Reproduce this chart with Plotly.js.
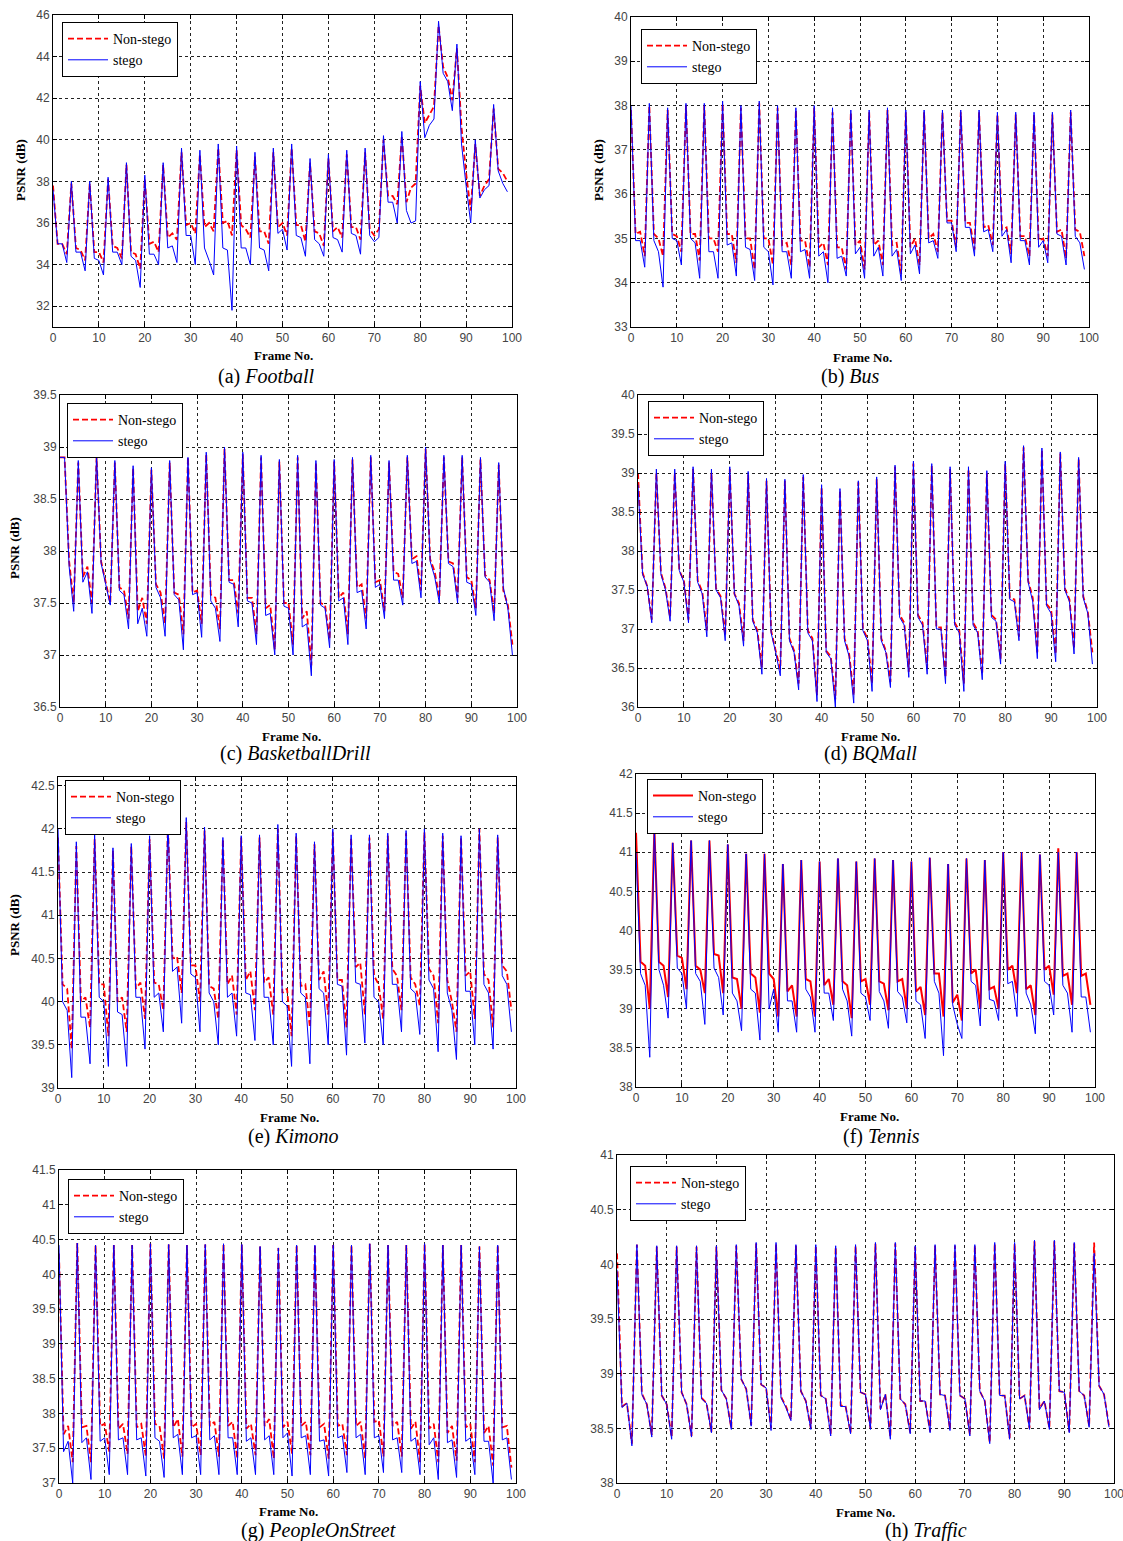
<!DOCTYPE html>
<html>
<head>
<meta charset="utf-8">
<script src="https://cdn.plot.ly/plotly-3.0.1.min.js"></script>
<style>html,body{margin:0;padding:0;background:#fff;}#chart{width:1123px;height:1541px;}</style>
</head>
<body>
<div id="chart"></div>
<script>
// ---------------- DATA (PSNR in dB per frame) ----------------
const frames = Array.from({length: 100}, (_, i) => i);

const football_nonstego = [
37.8,35.0,35.0,34.5, 37.9,34.8,34.7,34.2, 37.9,34.6,34.6,34.1, 38.1,34.9,34.8,34.3, 38.8,34.6,34.5,33.8,
38.1,35.0,35.1,34.6, 38.8,35.3,35.5,35.2, 39.4,35.9,36.0,35.5, 39.3,35.8,36.0,35.6, 39.6,36.0,36.1,35.4,
39.5,35.9,35.7,35.3, 39.2,35.6,35.6,35.0, 39.4,35.8,36.0,35.4, 39.6,35.9,35.9,35.1, 38.9,35.6,35.5,34.9,
39.1,35.6,35.8,35.3, 39.3,35.8,35.8,35.2, 39.4,35.7,35.4,35.7, 40.0,37.3,37.3,36.9, 40.2,37.0,37.7,37.9,
42.6,40.8,41.2,41.6, 45.5,43.5,43.0,41.9, 44.4,40.6,38.4,36.6, 39.8,37.3,37.8,38.1, 41.5,38.6,38.4,38.0];
const football_stego = [
37.6,35.0,35.0,34.1, 38.0,34.6,34.6,33.7, 38.0,34.3,34.2,33.5, 38.2,34.6,34.6,34.0, 38.9,34.4,34.2,32.9,
38.3,34.5,34.5,34.0, 38.9,34.8,34.9,34.1, 39.6,35.4,35.4,34.0, 39.5,34.8,34.2,33.5, 39.8,34.8,34.7,31.8,
39.7,34.8,34.8,34.0, 39.4,34.8,34.7,33.7, 39.6,35.5,35.7,34.7, 39.8,35.4,35.3,34.4, 39.1,35.2,35.0,34.4,
39.3,35.3,35.2,34.6, 39.5,35.5,35.4,34.5, 39.6,35.4,35.1,35.3, 40.2,37.0,37.0,36.0, 40.4,36.6,36.0,36.1,
42.8,40.1,40.7,41.0, 45.7,43.2,42.8,41.4, 44.6,39.8,37.8,36.0, 40.0,37.2,37.6,37.8, 41.7,38.5,37.9,37.5];

const bus_nonstego = [
37.9,35.1,35.15,34.6, 38.0,35.1,35.0,34.6, 37.9,35.1,35.05,34.7, 38.0,35.1,35.1,34.5, 38.0,35.0,35.0,34.7,
38.05,35.1,35.1,34.45, 37.95,35.0,35.0,34.3, 38.05,35.0,35.0,34.4, 37.95,34.85,34.9,34.4, 37.9,34.95,34.95,34.35,
37.95,34.8,34.9,34.4, 37.85,34.8,34.8,34.3, 37.85,34.85,34.95,34.3, 37.85,34.85,34.95,34.4, 37.9,34.85,34.9,34.2,
37.85,34.8,35.0,34.4, 37.85,35.0,35.1,34.7, 37.85,35.4,35.4,34.8, 37.85,35.35,35.35,34.75, 37.85,35.25,35.3,34.85,
37.8,35.2,35.25,34.65, 37.8,35.05,35.05,34.6, 37.8,34.95,35.0,34.6, 37.8,35.15,35.2,34.55, 37.85,35.2,35.15,34.6];
const bus_stego = [
38.0,34.95,34.95,34.35, 38.05,34.95,34.7,33.9, 37.95,35.0,34.95,34.4, 38.05,35.0,34.9,34.1, 38.05,34.7,34.7,34.1,
38.1,34.85,34.9,34.15, 38.0,34.8,34.75,34.05, 38.1,34.8,34.7,33.95, 38.0,34.7,34.7,34.1, 37.95,34.7,34.75,34.1,
38.0,34.6,34.7,34.0, 37.95,34.55,34.6,34.15, 37.9,34.65,34.8,34.1, 37.9,34.6,34.8,34.15, 37.95,34.6,34.75,34.05,
37.9,34.65,34.85,34.2, 37.9,34.9,34.95,34.55, 37.9,35.35,35.35,34.7, 37.9,35.25,35.25,34.6, 37.9,35.15,35.2,34.7,
37.85,35.05,35.2,34.45, 37.85,34.95,34.95,34.4, 37.85,34.8,34.95,34.45, 37.85,35.1,35.05,34.4, 37.9,35.05,34.9,34.3];

const basketball_nonstego = [
38.9,38.9,37.9,37.5, 38.85,37.75,37.85,37.5, 38.9,37.9,37.7,37.5, 38.85,37.65,37.62,37.35, 38.8,37.42,37.55,37.3,
38.78,37.68,37.6,37.3, 38.85,37.6,37.58,37.2, 38.9,37.6,37.62,37.3, 38.93,37.58,37.55,37.25, 38.98,37.72,37.72,37.4,
38.93,37.55,37.55,37.2, 38.9,37.45,37.48,37.05, 38.86,37.5,37.5,37.1, 38.9,37.35,37.42,36.9, 38.85,37.5,37.48,37.15,
38.86,37.55,37.6,37.2, 38.88,37.65,37.68,37.35, 38.9,37.7,37.72,37.42, 38.85,37.8,37.78,37.55, 38.9,37.92,37.95,37.62,
38.98,37.92,37.8,37.55, 38.9,37.9,37.88,37.55, 38.9,37.75,37.72,37.45, 38.88,37.77,37.72,37.4, 38.83,37.62,37.48,37.1];
const basketball_stego = [
38.9,38.9,37.85,37.42, 38.87,37.7,37.8,37.4, 38.92,37.88,37.68,37.48, 38.87,37.62,37.58,37.25, 38.82,37.3,37.45,37.18,
38.8,37.65,37.55,37.18, 38.87,37.58,37.53,37.05, 38.9,37.58,37.6,37.17, 38.95,37.52,37.45,37.13, 39.0,37.7,37.68,37.27,
38.95,37.52,37.5,37.1, 38.92,37.38,37.4,37.0, 38.88,37.47,37.45,37.0, 38.92,37.27,37.3,36.8, 38.87,37.48,37.45,37.07,
38.88,37.52,37.55,37.1, 38.9,37.6,37.62,37.25, 38.92,37.65,37.68,37.35, 38.87,37.72,37.72,37.48, 38.92,37.88,37.9,37.55,
39.0,37.9,37.75,37.5, 38.92,37.88,37.85,37.5, 38.92,37.7,37.68,37.38, 38.9,37.75,37.7,37.33, 38.85,37.65,37.45,37.0];

const bqmall_nonstego = [
39.0,37.72,37.55,37.12, 39.0,37.72,37.52,37.15, 39.0,37.75,37.62,37.12, 39.05,37.62,37.48,36.98, 39.0,37.52,37.42,36.92,
39.05,37.45,37.33,36.85, 38.98,37.12,36.98,36.5, 38.9,36.98,36.72,36.48, 38.9,36.88,36.72,36.3, 38.95,36.98,36.88,36.15,
38.82,36.72,36.65,36.1, 38.78,36.88,36.68,36.15, 38.88,37.0,36.88,36.3, 38.92,36.88,36.72,36.32, 39.08,37.18,37.08,36.45,
39.12,37.18,37.08,36.5, 39.1,37.02,37.02,36.38, 39.05,37.08,36.98,36.3, 39.05,37.08,36.98,36.42, 39.0,37.18,37.12,36.62,
39.12,37.4,37.38,36.9, 39.33,37.62,37.4,36.7, 39.3,37.32,37.25,36.68, 39.25,37.52,37.38,36.75, 39.18,37.42,37.22,36.7];
const bqmall_stego = [
38.85,37.7,37.55,37.08, 39.05,37.7,37.5,37.1, 39.05,37.75,37.6,37.08, 39.08,37.6,37.45,36.9, 39.05,37.5,37.4,36.85,
39.08,37.45,37.3,36.78, 39.02,37.1,36.95,36.42, 38.93,36.95,36.7,36.4, 38.92,36.85,36.7,36.22, 38.98,36.95,36.85,36.07,
38.85,36.7,36.62,36.0, 38.8,36.85,36.65,36.05, 38.9,36.98,36.85,36.2, 38.95,36.85,36.7,36.25, 39.1,37.15,37.05,36.38,
39.15,37.15,37.05,36.42, 39.12,37.0,37.0,36.3, 39.08,37.05,36.95,36.2, 39.08,37.05,36.95,36.35, 39.03,37.15,37.1,36.55,
39.15,37.38,37.35,36.85, 39.35,37.6,37.35,36.62, 39.32,37.3,37.2,36.58, 39.27,37.5,37.35,36.68, 39.2,37.4,37.2,36.55];

const kimono_nonstego = [
41.9,40.2,40.15,39.45, 41.8,40.0,40.05,39.7, 41.88,40.2,40.2,39.6, 41.75,40.0,40.05,39.65, 41.8,40.15,40.22,39.8,
41.88,40.22,40.2,39.9, 42.05,40.5,40.52,40.1, 42.08,40.42,40.42,40.0, 41.98,40.18,40.15,39.8, 41.88,40.2,40.3,39.85,
41.9,40.25,40.35,39.9, 41.9,40.22,40.28,39.85, 42.0,40.1,40.15,39.6, 41.92,40.18,40.2,39.7, 41.82,40.25,40.35,39.85,
41.96,40.25,40.25,39.7, 41.9,40.4,40.45,39.85, 41.9,40.3,40.2,39.8, 41.92,40.38,40.3,39.9, 41.95,40.28,40.2,39.95,
41.96,40.38,40.3,39.75, 41.92,40.25,40.0,39.65, 41.9,40.3,40.35,39.8, 42.0,40.32,40.25,39.7, 41.9,40.42,40.35,39.9];
const kimono_stego = [
42.0,40.0,39.9,39.12, 41.85,39.82,39.82,39.28, 41.93,40.05,40.0,39.25, 41.78,39.88,39.85,39.25, 41.83,40.05,40.05,39.45,
41.92,40.05,40.1,39.65, 42.1,40.35,40.4,39.75, 42.13,40.32,40.28,39.65, 42.02,40.1,40.0,39.5, 41.9,40.05,40.1,39.6,
41.92,40.1,40.08,39.55, 41.93,40.05,40.05,39.5, 42.05,40.0,39.95,39.25, 41.95,40.1,40.05,39.28, 41.85,40.15,40.1,39.5,
42.0,40.2,40.18,39.38, 41.93,40.22,40.2,39.52, 41.93,40.05,40.0,39.5, 41.95,40.2,40.2,39.65, 41.98,40.15,40.1,39.62,
42.0,40.25,40.15,39.42, 41.95,40.1,39.9,39.33, 41.92,40.12,40.12,39.5, 42.0,40.2,40.1,39.45, 41.93,40.3,40.2,39.65];

const tennis_nonstego = [
41.25,39.6,39.55,39.0, 41.3,39.6,39.55,39.15, 41.12,39.68,39.65,39.25, 41.15,39.55,39.5,39.2, 41.15,39.7,39.68,39.2,
41.1,39.4,39.38,39.0, 40.98,39.45,39.4,38.95, 40.98,39.45,39.38,38.9, 40.85,39.22,39.3,38.9, 40.9,39.38,39.35,38.9,
40.88,39.3,39.38,39.05, 40.92,39.35,39.3,38.88, 40.88,39.35,39.38,39.05, 40.92,39.35,39.32,38.98, 40.9,39.35,39.38,39.0,
40.88,39.22,39.28,38.92, 40.93,39.45,39.45,38.9, 40.85,39.08,39.18,38.85, 40.92,39.45,39.5,39.0, 40.9,39.25,39.28,39.0,
41.0,39.5,39.55,39.2, 41.0,39.25,39.3,38.92, 40.97,39.5,39.55,39.18, 41.05,39.42,39.45,39.05, 41.0,39.42,39.45,39.05];
const tennis_stego = [
41.0,39.45,39.3,38.38, 41.3,39.5,39.3,38.88, 41.12,39.52,39.45,39.0, 41.15,39.45,39.35,38.8, 41.15,39.52,39.4,38.92,
41.1,39.2,39.1,38.72, 40.98,39.25,39.2,38.6, 40.98,39.0,39.25,38.7, 40.85,39.1,39.1,38.7, 40.9,39.25,39.15,38.7,
40.88,39.2,39.2,38.85, 40.92,39.25,39.1,38.65, 40.88,39.2,39.15,38.85, 40.92,39.22,39.1,38.75, 40.9,39.22,39.15,38.82,
40.88,39.1,39.05,38.62, 40.93,39.35,39.2,38.4, 40.85,39.05,38.8,38.62, 40.92,39.35,39.3,38.78, 40.9,39.12,39.1,38.85,
41.0,39.32,39.35,38.9, 41.0,39.2,39.05,38.68, 40.97,39.35,39.3,38.92, 41.0,39.3,39.2,38.7, 41.0,39.15,39.15,38.7];

const people_nonstego = [
40.3,37.7,37.82,37.3, 40.45,37.8,37.82,37.3, 40.42,37.82,37.85,37.45, 40.42,37.78,37.85,37.42, 40.42,37.8,37.85,37.38,
40.44,37.85,37.82,37.35, 40.43,37.8,37.92,37.38, 40.42,37.8,37.85,37.4, 40.43,37.82,37.88,37.38, 40.44,37.82,37.88,37.35,
40.43,37.78,37.85,37.4, 40.4,37.82,37.92,37.35, 40.38,37.8,37.88,37.42, 40.42,37.82,37.88,37.4, 40.42,37.8,37.85,37.35,
40.42,37.82,37.85,37.4, 40.42,37.82,37.88,37.35, 40.44,37.88,37.9,37.38, 40.42,37.82,37.88,37.38, 40.42,37.78,37.88,37.3,
40.44,37.78,37.85,37.3, 40.42,37.72,37.82,37.32, 40.42,37.8,37.85,37.3, 40.4,37.72,37.82,37.25, 40.42,37.8,37.82,37.22];
const people_stego = [
40.42,37.45,37.6,37.0, 40.45,37.58,37.65,37.05, 40.42,37.6,37.65,37.12, 40.42,37.62,37.65,37.12, 40.42,37.62,37.65,37.1,
40.44,37.65,37.6,37.08, 40.43,37.65,37.7,37.12, 40.42,37.65,37.68,37.12, 40.43,37.62,37.68,37.12, 40.44,37.65,37.65,37.12,
40.43,37.6,37.65,37.12, 40.4,37.62,37.68,37.12, 40.38,37.65,37.72,37.1, 40.42,37.65,37.68,37.12, 40.42,37.6,37.62,37.1,
40.42,37.65,37.68,37.15, 40.42,37.65,37.7,37.12, 40.44,37.65,37.68,37.15, 40.42,37.62,37.65,37.15, 40.42,37.6,37.65,37.12,
40.44,37.55,37.65,37.05, 40.42,37.58,37.62,37.08, 40.42,37.6,37.65,37.12, 40.4,37.6,37.6,37.0, 40.42,37.62,37.65,37.05];

const traffic_nonstego = [
40.1,38.7,38.73,38.36, 40.18,38.82,38.72,38.44, 40.16,38.8,38.72,38.42, 40.16,38.83,38.72,38.43, 40.16,38.78,38.73,38.47,
40.16,38.85,38.77,38.5, 40.17,38.95,38.86,38.53, 40.19,38.9,38.87,38.5, 40.19,38.79,38.7,38.58, 40.17,38.84,38.75,38.5,
40.17,38.8,38.77,38.45, 40.16,38.71,38.7,38.46, 40.17,38.83,38.81,38.5, 40.19,38.68,38.81,38.42, 40.19,38.77,38.72,38.46,
40.16,38.75,38.75,38.47, 40.17,38.81,38.8,38.49, 40.17,38.8,38.77,38.44, 40.17,38.84,38.75,38.37, 40.19,38.8,38.8,38.41,
40.19,38.77,38.8,38.5, 40.21,38.68,38.75,38.5, 40.21,38.84,38.83,38.47, 40.19,38.84,38.8,38.52, 40.2,38.89,38.81,38.52];
const traffic_stego = [
39.95,38.69,38.73,38.34, 40.18,38.81,38.72,38.42, 40.17,38.8,38.72,38.4, 40.17,38.83,38.72,38.42, 40.17,38.77,38.73,38.46,
40.17,38.85,38.77,38.49, 40.18,38.95,38.86,38.52, 40.2,38.9,38.87,38.48, 40.2,38.78,38.69,38.57, 40.18,38.84,38.75,38.49,
40.18,38.8,38.77,38.43, 40.17,38.7,38.7,38.45, 40.18,38.83,38.81,38.49, 40.2,38.67,38.81,38.4, 40.2,38.77,38.72,38.45,
40.17,38.75,38.75,38.46, 40.18,38.81,38.8,38.48, 40.18,38.8,38.77,38.43, 40.18,38.84,38.75,38.36, 40.2,38.8,38.8,38.4,
40.2,38.77,38.8,38.49, 40.22,38.67,38.75,38.49, 40.22,38.84,38.83,38.46, 40.2,38.84,38.8,38.51, 40.1,38.89,38.81,38.51];

const seriesNames = ['Non-stego', 'stego'];
const panelLetters = ['a','b','c','d','e','f','g','h'];
const panelNames = ['Football','Bus','BasketballDrill','BQMall','Kimono','Tennis','PeopleOnStreet','Traffic'];
const xTitle = 'Frame No.';
const yTitle = 'PSNR (dB)';

// ---------------- LAYOUT GEOMETRY (pixels) ----------------
const W = 1123, H = 1541;
const px = v => v / W;
const py = v => 1 - v / H;

const panels = [
  {red: football_nonstego, blue: football_stego, box:[53,512,15,327], yr:[31,46], dt:2, leg:[62,22], cap:[266,376], ft:[283,356], yt:[20,170], redSolid:false},
  {red: bus_nonstego, blue: bus_stego, box:[631,1089,17,327], yr:[33,40], dt:1, leg:[641,29], cap:[850,376], ft:[862,357], yt:[598,170], redSolid:false},
  {red: basketball_nonstego, blue: basketball_stego, box:[60,517,395,707], yr:[36.5,39.5], dt:0.5, leg:[67,403], cap:[295,753], ft:[291,736], yt:[14,548], redSolid:false},
  {red: bqmall_nonstego, blue: bqmall_stego, box:[638,1097,395,707], yr:[36,40], dt:0.5, leg:[648,401], cap:[870,753], ft:[870,736], yt:null, redSolid:false},
  {red: kimono_nonstego, blue: kimono_stego, box:[58,516,777,1088], yr:[39,42.6], dt:0.5, leg:[65,780], cap:[293,1136], ft:[289,1117], yt:[14,925], redSolid:false},
  {red: tennis_nonstego, blue: tennis_stego, box:[636,1095,774,1087], yr:[38,42], dt:0.5, leg:[647,779], cap:[881,1136], ft:[869,1116], yt:null, redSolid:true},
  {red: people_nonstego, blue: people_stego, box:[59,516,1170,1483], yr:[37,41.5], dt:0.5, leg:[68,1179], cap:[318,1530], ft:[288,1511], yt:null, redSolid:false},
  {red: traffic_nonstego, blue: traffic_stego, box:[617,1114,1155,1483], yr:[38,41], dt:0.5, leg:[630,1166], cap:[926,1530], ft:[865,1512], yt:null, redSolid:false}
];

const SERIF = '"Liberation Serif", "Times New Roman", Times, serif';
const SANS = '"Liberation Sans", Arial, Helvetica, sans-serif';

const traces = [];
const layout = {
  width: W, height: H,
  margin: {l:0, r:0, t:0, b:0},
  paper_bgcolor: '#fff', plot_bgcolor: '#fff',
  showlegend: true,
  hovermode: false,
  annotations: []
};

panels.forEach((p, i) => {
  const s = i === 0 ? '' : String(i + 1);
  const legName = 'legend' + s;
  traces.push({
    x: frames, y: p.red, type: 'scatter', mode: 'lines',
    name: seriesNames[0], xaxis: 'x' + s, yaxis: 'y' + s, legend: legName,
    line: {color: '#ff0000', width: p.redSolid ? 2 : 1.8, dash: p.redSolid ? 'solid' : '6px,3px'}
  });
  traces.push({
    x: frames, y: p.blue, type: 'scatter', mode: 'lines',
    name: seriesNames[1], xaxis: 'x' + s, yaxis: 'y' + s, legend: legName,
    line: {color: '#0000ff', width: 1}
  });
  const [l, r, t, b] = p.box;
  const axCommon = {
    showline: true, mirror: 'ticks', linecolor: '#000', linewidth: 1,
    ticks: 'inside', ticklen: 4, tickcolor: '#000',
    showgrid: true, gridcolor: '#222', gridwidth: 1, griddash: '3px,3px',
    zeroline: false, fixedrange: true, ticklabeloverflow: 'allow',
    tickfont: {family: SANS, size: 12, color: '#444'}
  };
  layout['xaxis' + s] = Object.assign({}, axCommon, {
    domain: [px(l), px(r)], anchor: 'y' + s, range: [0, 100], dtick: 10, tick0: 0
  });
  layout['yaxis' + s] = Object.assign({}, axCommon, {
    domain: [py(b), py(t)], anchor: 'x' + s, range: p.yr, dtick: p.dt, tick0: 0
  });
  layout[legName] = {
    x: px(p.leg[0]), y: py(p.leg[1]), xanchor: 'left', yanchor: 'top',
    xref: 'paper', yref: 'paper',
    bgcolor: '#fff', bordercolor: '#000', borderwidth: 1,
    font: {family: SERIF, size: 14, color: '#000'},
    tracegroupgap: 0, itemwidth: 40
  };
  layout.annotations.push({
    xref: 'paper', yref: 'paper', x: px(p.cap[0]), y: py(p.cap[1]),
    xanchor: 'center', yanchor: 'middle', showarrow: false,
    text: '(' + panelLetters[i] + ') <i>' + panelNames[i] + '</i>',
    font: {family: SERIF, size: 20, color: '#000'}
  });
  layout.annotations.push({
    xref: 'paper', yref: 'paper', x: px(p.ft[0]), y: py(p.ft[1]),
    xanchor: 'center', yanchor: 'middle', showarrow: false,
    text: '<b>' + xTitle + '</b>',
    font: {family: SERIF, size: 13, color: '#000'}
  });
  if (p.yt) {
    layout.annotations.push({
      xref: 'paper', yref: 'paper', x: px(p.yt[0]), y: py(p.yt[1]),
      xanchor: 'center', yanchor: 'middle', showarrow: false, textangle: -90,
      text: '<b>' + yTitle + '</b>',
      font: {family: SERIF, size: 13, color: '#000'}
    });
  }
});

Plotly.newPlot('chart', traces, layout, {staticPlot: true, displayModeBar: false});
</script>
</body>
</html>
